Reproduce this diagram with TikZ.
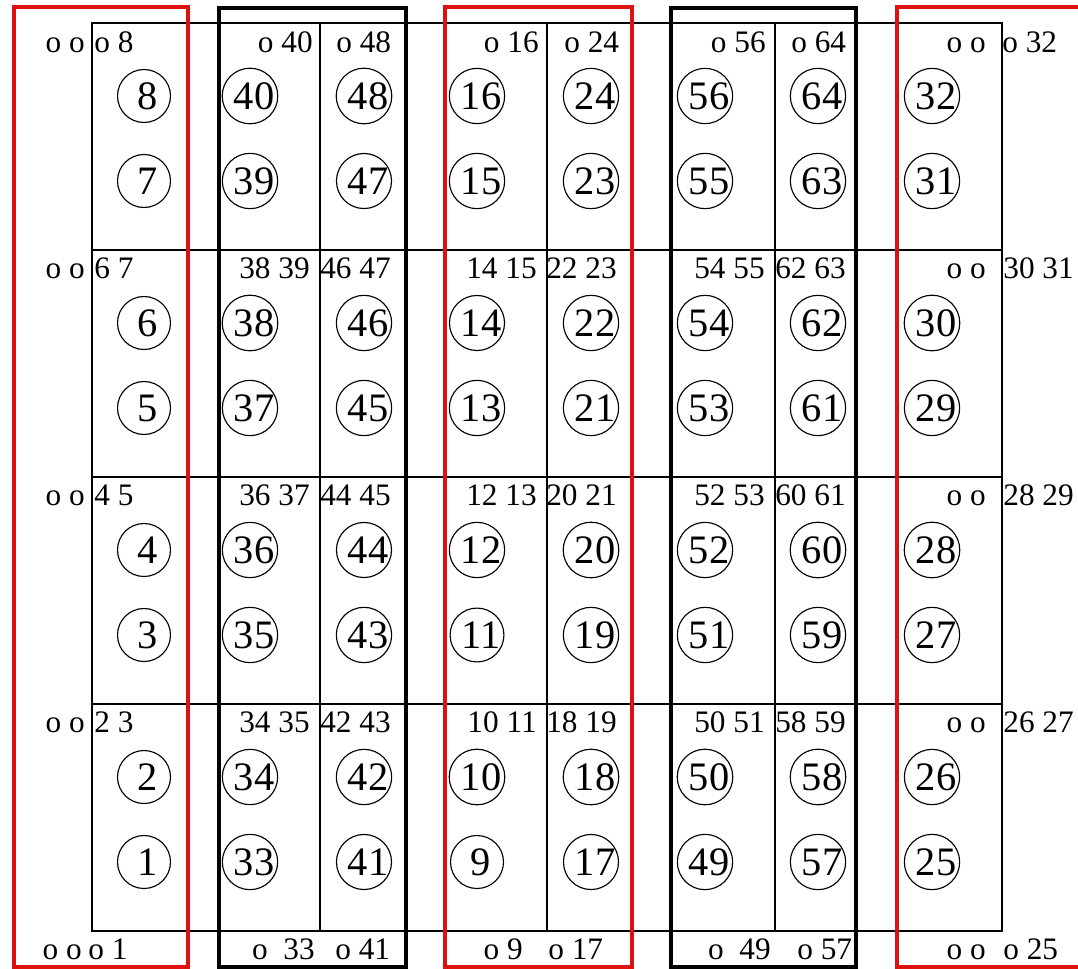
\documentclass[tikz,border=0pt]{standalone}
\usepackage{fontspec}
\setmainfont{Liberation Serif}
\definecolor{framered}{RGB}{222,16,16}

\begin{document}
\begin{tikzpicture}[
	x=0.02cm, y=-0.02cm,
	num/.style={ circle, draw, line width=0.65pt, inner sep=0pt, minimum size=1.06cm, font=\fontsize{23}{25}\selectfont, execute at begin node=\kern0.16cm },
	lbl/.style={ inner sep=0pt, text height=12pt, text depth=0pt, font=\fontsize{17.8}{20}\selectfont },
	lbll/.style={ lbl, anchor=west },
	lblr/.style={ lbl, anchor=east },
	cellline/.style={ line width=0.6pt },
	bandr/.style={ framered, line width=2.3pt },
	bandk/.style={ black, line width=2.3pt }
]

\useasboundingbox (0,0) rectangle (1078,969);
\clip (0,0) rectangle (1078,969);

% cells
\draw[cellline] (92,23) rectangle (1002,931);
\draw[cellline] (320,23) -- (320,931);
\draw[cellline] (547,23) -- (547,931);
\draw[cellline] (775,23) -- (775,931);
\draw[cellline] (92,250) -- (1002,250);
\draw[cellline] (92,477) -- (1002,477);
\draw[cellline] (92,704) -- (1002,704);

% bands
\draw[bandr] (14,7) rectangle (188,967);
\draw[bandk] (219,8) rectangle (406,967);
\draw[bandr] (445,7) rectangle (632,967);
\draw[bandk] (671,8) rectangle (856,967);
\draw[bandr] (897,7) rectangle (1090,967);

% circled numbers
\node at (144,862) (n1) [num] {1};
\node at (144,777) (n2) [num] {2};
\node at (144,635) (n3) [num] {3};
\node at (144,550) (n4) [num] {4};
\node at (144,408) (n5) [num] {5};
\node at (144,323) (n6) [num] {6};
\node at (144,181) (n7) [num] {7};
\node at (144,96) (n8) [num] {8};
\node at (477,862) (n9) [num] {9};
\node at (477,777) (n10) [num] {10};
\node at (477,635) (n11) [num] {11};
\node at (477,550) (n12) [num] {12};
\node at (477,408) (n13) [num] {13};
\node at (477,323) (n14) [num] {14};
\node at (477,181) (n15) [num] {15};
\node at (477,96) (n16) [num] {16};
\node at (591,862) (n17) [num] {17};
\node at (591,777) (n18) [num] {18};
\node at (591,635) (n19) [num] {19};
\node at (591,550) (n20) [num] {20};
\node at (591,408) (n21) [num] {21};
\node at (591,323) (n22) [num] {22};
\node at (591,181) (n23) [num] {23};
\node at (591,96) (n24) [num] {24};
\node at (932,862) (n25) [num] {25};
\node at (932,777) (n26) [num] {26};
\node at (932,635) (n27) [num] {27};
\node at (932,550) (n28) [num] {28};
\node at (932,408) (n29) [num] {29};
\node at (932,323) (n30) [num] {30};
\node at (932,181) (n31) [num] {31};
\node at (932,96) (n32) [num] {32};
\node at (250,862) (n33) [num] {33};
\node at (250,777) (n34) [num] {34};
\node at (250,635) (n35) [num] {35};
\node at (250,550) (n36) [num] {36};
\node at (250,408) (n37) [num] {37};
\node at (250,323) (n38) [num] {38};
\node at (250,181) (n39) [num] {39};
\node at (250,96) (n40) [num] {40};
\node at (364,862) (n41) [num] {41};
\node at (364,777) (n42) [num] {42};
\node at (364,635) (n43) [num] {43};
\node at (364,550) (n44) [num] {44};
\node at (364,408) (n45) [num] {45};
\node at (364,323) (n46) [num] {46};
\node at (364,181) (n47) [num] {47};
\node at (364,96) (n48) [num] {48};
\node at (705,862) (n49) [num] {49};
\node at (705,777) (n50) [num] {50};
\node at (705,635) (n51) [num] {51};
\node at (705,550) (n52) [num] {52};
\node at (705,408) (n53) [num] {53};
\node at (705,323) (n54) [num] {54};
\node at (705,181) (n55) [num] {55};
\node at (705,96) (n56) [num] {56};
\node at (818,862) (n57) [num] {57};
\node at (818,777) (n58) [num] {58};
\node at (818,635) (n59) [num] {59};
\node at (818,550) (n60) [num] {60};
\node at (818,408) (n61) [num] {61};
\node at (818,323) (n62) [num] {62};
\node at (818,181) (n63) [num] {63};
\node at (818,96) (n64) [num] {64};

% row labels
\node at (85,42) (r1a) [lblr] {o o};
\node at (94,42) (r1b) [lbll] {o 8};
\node at (313,42) (r1c) [lblr] {o 40};
\node at (336,42) (r1d) [lbll] {o 48};
\node at (539,42) (r1e) [lblr] {o 16};
\node at (564,42) (r1f) [lbll] {o 24};
\node at (766,42) (r1g) [lblr] {o 56};
\node at (791,42) (r1h) [lbll] {o 64};
\node at (986,42) (r1i) [lblr] {o o};
\node at (1002,42) (r1j) [lbll] {o 32};

\node at (85,268) (r2a) [lblr] {o o};
\node at (94,268) (r2b) [lbll] {6 7};
\node at (310,268) (r2c) [lblr] {38 39};
\node at (320,268) (r2d) [lbll] {46 47};
\node at (537,268) (r2e) [lblr] {14 15};
\node at (546,268) (r2f) [lbll] {22 23};
\node at (765,268) (r2g) [lblr] {54 55};
\node at (775,268) (r2h) [lbll] {62 63};
\node at (986,268) (r2i) [lblr] {o o};
\node at (1003,268) (r2j) [lbll] {30 31};

\node at (85,495) (r3a) [lblr] {o o};
\node at (94,495) (r3b) [lbll] {4 5};
\node at (310,495) (r3c) [lblr] {36 37};
\node at (320,495) (r3d) [lbll] {44 45};
\node at (537,495) (r3e) [lblr] {12 13};
\node at (546,495) (r3f) [lbll] {20 21};
\node at (765,495) (r3g) [lblr] {52 53};
\node at (775,495) (r3h) [lbll] {60 61};
\node at (986,495) (r3i) [lblr] {o o};
\node at (1003,495) (r3j) [lbll] {28 29};

\node at (85,722) (r4a) [lblr] {o o};
\node at (94,722) (r4b) [lbll] {2 3};
\node at (310,722) (r4c) [lblr] {34 35};
\node at (320,722) (r4d) [lbll] {42 43};
\node at (537,722) (r4e) [lblr] {10 11};
\node at (546,722) (r4f) [lbll] {18 19};
\node at (765,722) (r4g) [lblr] {50 51};
\node at (775,722) (r4h) [lbll] {58 59};
\node at (986,722) (r4i) [lblr] {o o};
\node at (1003,722) (r4j) [lbll] {26 27};

\node at (82,949) (r5a) [lblr] {o o};
\node at (88,949) (r5b) [lbll] {o 1};
\node at (315,949) (r5c) [lblr] {o\enspace 33};
\node at (335,949) (r5d) [lbll] {o 41};
\node at (523,949) (r5e) [lblr] {o 9};
\node at (548,949) (r5f) [lbll] {o 17};
\node at (771,949) (r5g) [lblr] {o\enspace 49};
\node at (797,949) (r5h) [lbll] {o 57};
\node at (986,949) (r5i) [lblr] {o o};
\node at (1003,949) (r5j) [lbll] {o 25};

\end{tikzpicture}
\end{document}
